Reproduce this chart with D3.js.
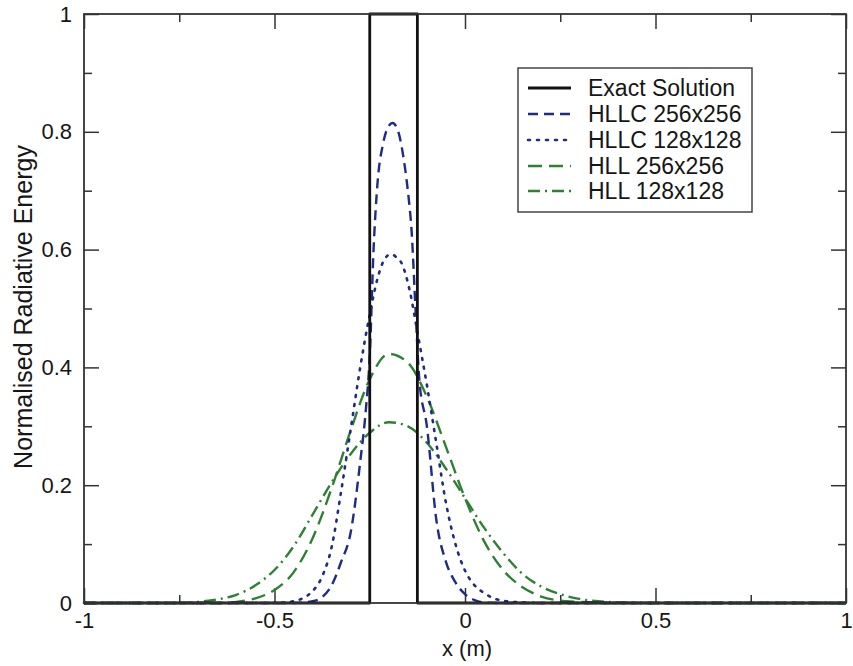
<!DOCTYPE html>
<html>
<head>
<meta charset="utf-8">
<script src="https://cdn.jsdelivr.net/npm/d3@7/dist/d3.min.js"></script>
<style>
  html, body { margin: 0; padding: 0; background: #fff; }
  svg { display: block; }
  text { font-family: "Liberation Sans", Arial, Helvetica, sans-serif; fill: #161616; }
</style>
</head>
<body>
<svg id="chart" width="853" height="666"></svg>
<script>
// Radiative energy profiles along x, exact square pulse vs. numerical schemes
const exactX = [-1, -0.25, -0.25, -0.125, -0.125, 1];
const exactY = [0, 0, 1, 1, 0, 0];

const hllc256X = [-1, -0.45, -0.4, -0.375, -0.35, -0.325, -0.3, -0.275, -0.26, -0.25, -0.24, -0.23, -0.215, -0.2, -0.19, -0.175, -0.16, -0.15, -0.14, -0.13, -0.12, -0.1, -0.075, -0.05, -0.025, 0, 0.025, 0.05, 0.1, 1];
const hllc256Y = [0, 0, 0.003, 0.01, 0.03, 0.07, 0.12, 0.24, 0.33, 0.42, 0.6, 0.71, 0.78, 0.81, 0.815, 0.8, 0.75, 0.7, 0.63, 0.5, 0.38, 0.3, 0.14, 0.07, 0.035, 0.015, 0.005, 0.001, 0, 0];

const hllc128X = [-1, -0.5, -0.45, -0.42, -0.4, -0.375, -0.35, -0.325, -0.3, -0.275, -0.25, -0.23, -0.21, -0.195, -0.18, -0.165, -0.145, -0.125, -0.1, -0.075, -0.05, -0.025, 0, 0.025, 0.05, 0.075, 0.1, 0.15, 0.2, 1];
const hllc128Y = [0, 0, 0.003, 0.01, 0.02, 0.045, 0.095, 0.19, 0.295, 0.4, 0.49, 0.55, 0.585, 0.592, 0.587, 0.575, 0.53, 0.46, 0.37, 0.27, 0.17, 0.1, 0.055, 0.03, 0.017, 0.008, 0.004, 0.001, 0, 0];

const hll256X = [-1, -0.65, -0.6, -0.55, -0.5, -0.45, -0.4, -0.35, -0.3, -0.25, -0.2, -0.15, -0.1, -0.05, 0, 0.05, 0.1, 0.15, 0.2, 0.25, 0.3, 0.4, 0.5, 1];
const hll256Y = [0, 0, 0.002, 0.008, 0.022, 0.052, 0.11, 0.195, 0.293, 0.38, 0.423, 0.408, 0.35, 0.265, 0.178, 0.105, 0.056, 0.027, 0.011, 0.004, 0.002, 0, 0, 0];

const hll128X = [-1, -0.75, -0.7, -0.65, -0.6, -0.55, -0.5, -0.45, -0.4, -0.35, -0.3, -0.25, -0.2, -0.15, -0.1, -0.05, 0, 0.05, 0.1, 0.15, 0.2, 0.25, 0.3, 0.35, 0.4, 0.5, 0.6, 1];
const hll128Y = [0, 0, 0.002, 0.006, 0.014, 0.03, 0.056, 0.096, 0.15, 0.205, 0.253, 0.289, 0.307, 0.3, 0.272, 0.228, 0.178, 0.128, 0.085, 0.05, 0.028, 0.015, 0.007, 0.003, 0.001, 0, 0, 0];

const seriesNames = ["Exact Solution", "HLLC 256x256", "HLLC 128x128", "HLL 256x256", "HLL 128x128"];
const xMajorTicks = [-1, -0.5, 0, 0.5, 1];
const xMinorTicks = [-0.75, -0.25, 0.25, 0.75];
const yMajorTicks = [0, 0.2, 0.4, 0.6, 0.8, 1];
const yMinorTicks = [0.1, 0.3, 0.5, 0.7, 0.9];

const svg = d3.select("#chart");
const plotLeft = 84, plotRight = 846, plotTop = 14, plotBottom = 603;

const x = d3.scaleLinear().domain([-1, 1]).range([plotLeft, plotRight]);
const y = d3.scaleLinear().domain([0, 1]).range([plotBottom, plotTop]);

const navy = "#1f2b85";
const green = "#2f7f35";

const styles = [
  { color: "#111", width: 2.8, dash: null, curve: d3.curveLinear },
  { color: navy, width: 2.4, dash: "10,6", curve: d3.curveMonotoneX },
  { color: navy, width: 2.6, dash: "2,7", curve: d3.curveMonotoneX },
  { color: green, width: 2.4, dash: "14,7", curve: d3.curveMonotoneX },
  { color: green, width: 2.4, dash: "12,5,2,5", curve: d3.curveMonotoneX }
];

const series = [
  d3.zip(exactX, exactY),
  d3.zip(hllc256X, hllc256Y),
  d3.zip(hllc128X, hllc128Y),
  d3.zip(hll256X, hll256Y),
  d3.zip(hll128X, hll128Y)
];

// ticks on all four sides, pointing into the plot
const fmt = d => String(d);
const tickFont = 22;

function styleAxis(g) {
  g.select(".domain").remove();
  g.selectAll(".tick line").attr("stroke", "#333").attr("stroke-width", 1.5);
  g.selectAll(".tick text").attr("font-size", tickFont).attr("fill", "#161616")
    .style("font-family", "'Liberation Sans', Arial, sans-serif");
}

svg.append("g").attr("transform", `translate(0,${plotBottom})`)
  .call(d3.axisBottom(x).tickValues(xMajorTicks).tickSize(-15).tickPadding(9).tickFormat(fmt))
  .call(styleAxis);
svg.append("g").attr("transform", `translate(0,${plotBottom})`)
  .call(d3.axisBottom(x).tickValues(xMinorTicks).tickSize(-8).tickFormat(""))
  .call(styleAxis);
svg.append("g").attr("transform", `translate(0,${plotTop})`)
  .call(d3.axisTop(x).tickValues(xMajorTicks).tickSize(-15).tickFormat(""))
  .call(styleAxis);
svg.append("g").attr("transform", `translate(0,${plotTop})`)
  .call(d3.axisTop(x).tickValues(xMinorTicks).tickSize(-8).tickFormat(""))
  .call(styleAxis);

svg.append("g").attr("transform", `translate(${plotLeft},0)`)
  .call(d3.axisLeft(y).tickValues(yMajorTicks).tickSize(-15).tickPadding(12).tickFormat(fmt))
  .call(styleAxis);
svg.append("g").attr("transform", `translate(${plotLeft},0)`)
  .call(d3.axisLeft(y).tickValues(yMinorTicks).tickSize(-8).tickFormat(""))
  .call(styleAxis);
svg.append("g").attr("transform", `translate(${plotRight},0)`)
  .call(d3.axisRight(y).tickValues(yMajorTicks).tickSize(-15).tickFormat(""))
  .call(styleAxis);
svg.append("g").attr("transform", `translate(${plotRight},0)`)
  .call(d3.axisRight(y).tickValues(yMinorTicks).tickSize(-8).tickFormat(""))
  .call(styleAxis);

// curves, numerical first, exact solution drawn over them
const order = [4, 3, 2, 1, 0];
order.forEach(i => {
  const s = styles[i];
  const line = d3.line().x(d => x(d[0])).y(d => y(d[1])).curve(s.curve);
  svg.append("path")
    .datum(series[i])
    .attr("d", line)
    .attr("fill", "none")
    .attr("stroke", s.color)
    .attr("stroke-width", s.width)
    .attr("stroke-dasharray", s.dash)
    .attr("stroke-linecap", s.dash === "2,7" ? "round" : "butt")
    .attr("stroke-linejoin", "round");
});

// plot frame
svg.append("rect")
  .attr("x", plotLeft).attr("y", plotTop)
  .attr("width", plotRight - plotLeft).attr("height", plotBottom - plotTop)
  .attr("fill", "none").attr("stroke", "#333").attr("stroke-width", 1.8);

// axis titles
svg.append("text")
  .attr("x", 467).attr("y", 656)
  .attr("text-anchor", "middle").attr("font-size", 22)
  .text("x (m)");
svg.append("text")
  .attr("transform", `translate(32,307) rotate(-90)`)
  .attr("text-anchor", "middle").attr("font-size", 25)
  .text("Normalised Radiative Energy");

// legend
const legend = svg.append("g");
legend.append("rect")
  .attr("x", 518).attr("y", 68).attr("width", 234).attr("height", 144)
  .attr("fill", "#fff").attr("stroke", "#444").attr("stroke-width", 1.5);
const rowY = [88, 114, 140, 166, 191];
seriesNames.forEach((name, i) => {
  const s = styles[i];
  legend.append("line")
    .attr("x1", 528).attr("x2", 571).attr("y1", rowY[i]).attr("y2", rowY[i])
    .attr("stroke", s.color).attr("stroke-width", s.width)
    .attr("stroke-dasharray", s.dash)
    .attr("stroke-linecap", s.dash === "2,7" ? "round" : "butt");
  legend.append("text")
    .attr("x", 588).attr("y", rowY[i]).attr("dy", "0.36em")
    .attr("font-size", 23)
    .text(name);
});
</script>
</body>
</html>
